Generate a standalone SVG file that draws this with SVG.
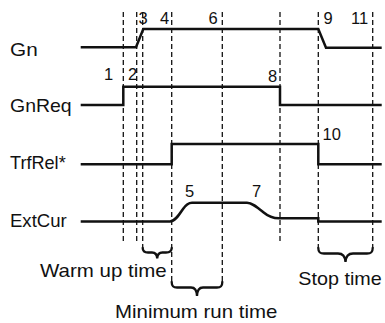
<svg xmlns="http://www.w3.org/2000/svg" width="385" height="323" viewBox="0 0 385 323">
<style>
.lbl{font-family:"Liberation Sans",Arial,sans-serif;font-size:19px;fill:#111}
.num{font-family:"Liberation Sans",Arial,sans-serif;font-size:16.5px;fill:#111}
.sig{fill:none;stroke:#111;stroke-width:2.5;stroke-linejoin:miter}
.dash{fill:none;stroke:#111;stroke-width:1.3;stroke-dasharray:5,3}
.brace{fill:none;stroke:#111;stroke-width:2.3;stroke-linecap:round}
</style>
<rect width="385" height="323" fill="#fff"/>
<g id="connectors">
  <g id="guides">
    <line class="dash" x1="123.3" y1="12" x2="123.3" y2="241"/>
    <line class="dash" x1="136.7" y1="12" x2="136.7" y2="241"/>
    <line class="dash" x1="142.7" y1="12" x2="142.7" y2="248"/>
    <line class="dash" x1="171.7" y1="12" x2="171.7" y2="282"/>
    <line class="dash" x1="222.3" y1="12" x2="222.3" y2="282"/>
    <line class="dash" x1="280" y1="12" x2="280" y2="242"/>
    <line class="dash" x1="318.3" y1="12" x2="318.3" y2="248"/>
    <line class="dash" x1="372.7" y1="12" x2="372.7" y2="248"/>
  </g>
  <g id="signals">
    <path class="sig" d="M80.7,47.3 H136 L143.3,29 H318.3 L326,47.7 H381.7"/>
    <path class="sig" d="M80.7,105 H123.3 V86.7 H280 V105 H381.7"/>
    <path class="sig" d="M80.7,164.3 H171.7 V144 H318.3 V164.3 H381.7"/>
    <path class="sig" d="M80.7,221.5 H170 C175,221.5 179,215 183,209 C186,204.5 188,202.7 192,202.7 H247 C252,202.7 257,207 263,212 C269,217 273,218.3 279,218.3 H318.3 V221.5 H381.7"/>
  </g>
  <g id="braces">
    <path class="brace" d="M142.7,248 C142.7,251 144,252.5 148,252.5 H152 C155,252.5 157,254 157.2,258.5 C157.4,254 159.4,252.5 162.4,252.5 H166 C170,252.5 171.7,251 171.7,248"/>
    <path class="brace" d="M171.7,282 C171.7,286 173,287.5 177,287.5 H191 C194,287.5 196.8,289 197,296 C197.2,289 200,287.5 203,287.5 H217 C221,287.5 222.3,286 222.3,282"/>
    <path class="brace" d="M318.3,248 C318.3,252 319.5,253.5 324,253.5 H338 C342,253.5 345.2,256 345.5,262 C345.8,256 349,253.5 353,253.5 H367 C371.5,253.5 372.7,252 372.7,248"/>
  </g>
</g>
<g id="Gn"><text class="lbl" x="10" y="56" textLength="27.7" lengthAdjust="spacingAndGlyphs">Gn</text></g>
<g id="GnReq"><text class="lbl" x="10" y="112" textLength="61.7" lengthAdjust="spacingAndGlyphs">GnReq</text></g>
<g id="TrfRel"><text class="lbl" x="10" y="168.5" textLength="55.7" lengthAdjust="spacingAndGlyphs">TrfRel*</text></g>
<g id="ExtCur"><text class="lbl" x="10" y="227" textLength="56.7" lengthAdjust="spacingAndGlyphs">ExtCur</text></g>
<g id="numbers">
  <text class="num" x="104" y="80">1</text>
  <text class="num" x="128" y="80">2</text>
  <text class="num" x="138.5" y="23.5">3</text>
  <text class="num" x="160" y="23.5">4</text>
  <text class="num" x="208.5" y="23.5">6</text>
  <text class="num" x="268" y="81.5">8</text>
  <text class="num" x="323.5" y="23.5">9</text>
  <text class="num" x="351" y="23.5">11</text>
  <text class="num" x="322.5" y="140">10</text>
  <text class="num" x="185" y="197">5</text>
  <text class="num" x="252" y="197">7</text>
</g>
<g id="warmup"><text class="lbl" x="40" y="277" textLength="126.7" lengthAdjust="spacingAndGlyphs">Warm up time</text></g>
<g id="minrun"><text class="lbl" x="115" y="317.5" textLength="162.3" lengthAdjust="spacingAndGlyphs">Minimum run time</text></g>
<g id="stop"><text class="lbl" x="298.3" y="285" textLength="83.4" lengthAdjust="spacingAndGlyphs">Stop time</text></g>
</svg>
